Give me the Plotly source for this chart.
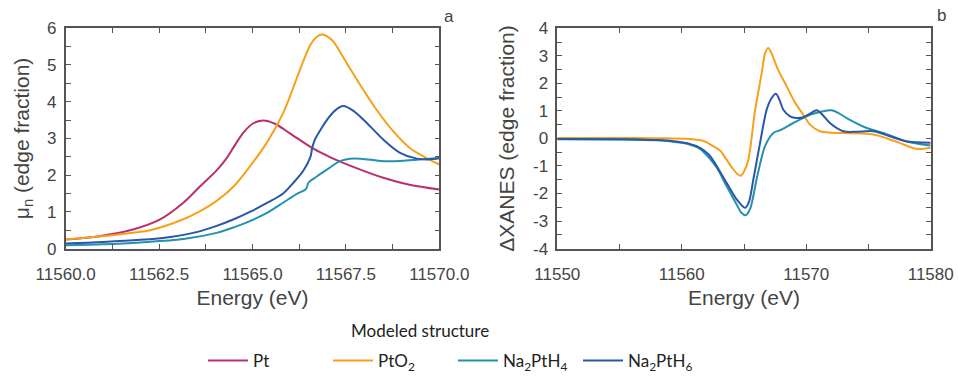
import plotly.graph_objects as go

# ---------------- data ----------------
series_names = ["Pt", "PtO<sub>2</sub>", "Na<sub>2</sub>PtH<sub>4</sub>", "Na<sub>2</sub>PtH<sub>6</sub>"]

# Panel a: normalized mu (edge fraction)
pt_e = [11560.0, 11560.9, 11561.8, 11562.5, 11563.15, 11563.6, 11564.04, 11564.3, 11564.5, 11564.75,
        11565.0, 11565.29, 11565.6, 11566.0, 11566.63, 11567.1, 11567.61, 11568.5, 11569.2, 11570.0]
pt_mu = [0.25, 0.34, 0.52, 0.78, 1.25, 1.70, 2.13, 2.45, 2.77, 3.15,
         3.40, 3.49, 3.40, 3.14, 2.72, 2.48, 2.26, 1.93, 1.74, 1.61]

pto2_e = [11560.0, 11560.9, 11561.8, 11562.26, 11563.15, 11563.6, 11564.04, 11564.5, 11564.93, 11565.38,
          11565.82, 11566.09, 11566.3, 11566.55, 11566.7, 11566.86, 11567.0, 11567.16, 11567.52, 11567.88,
          11568.32, 11568.77, 11569.21, 11569.6, 11570.0]
pto2_mu = [0.25, 0.33, 0.43, 0.50, 0.80, 1.02, 1.30, 1.70, 2.24, 2.88,
           3.69, 4.38, 4.95, 5.55, 5.75, 5.83, 5.78, 5.64, 5.05, 4.46,
           3.78, 3.19, 2.74, 2.50, 2.29]

h4_e = [11560.0, 11561.0, 11562.0, 11563.15, 11564.04, 11564.5, 11564.93, 11565.4, 11565.82, 11566.2,
        11566.43, 11566.5, 11566.7, 11566.99, 11567.34, 11567.61, 11567.9, 11568.5, 11569.0, 11569.4, 11570.0]
h4_mu = [0.09, 0.12, 0.17, 0.26, 0.43, 0.58, 0.75, 0.98, 1.25, 1.50,
         1.62, 1.80, 1.95, 2.15, 2.38, 2.45, 2.45, 2.38, 2.39, 2.42, 2.47]

h6_e = [11560.0, 11561.0, 11562.0, 11562.8, 11563.5, 11564.04, 11564.5, 11564.93, 11565.4, 11565.82,
        11566.1, 11566.36, 11566.55, 11566.6, 11566.67, 11566.8, 11566.99, 11567.2, 11567.43, 11567.7,
        11568.06, 11568.5, 11568.95, 11569.4, 11569.7, 11570.0]
h6_mu = [0.14, 0.18, 0.24, 0.32, 0.45, 0.62, 0.80, 1.00, 1.25, 1.50,
         1.80, 2.12, 2.50, 2.75, 2.97, 3.20, 3.50, 3.75, 3.88, 3.75,
         3.42, 2.97, 2.61, 2.45, 2.43, 2.46]

# Panel b: Delta XANES (edge fraction)
d_pto2_e = [11550, 11555, 11558, 11560.66, 11561.8, 11562.53, 11563.1, 11563.6, 11564.1, 11564.5,
            11564.76, 11565.0, 11565.35, 11565.88, 11566.42, 11566.7, 11566.95, 11567.2, 11567.73, 11568.43,
            11569.1, 11569.77, 11570.3, 11571.1, 11572.0, 11573.5, 11575.4, 11576.5, 11577.5, 11578.87, 11580]
d_pto2 = [0.02, 0.02, 0.01, -0.02, -0.10, -0.28, -0.45, -0.77, -1.10, -1.30,
          -1.35, -1.20, -0.77, 0.98, 2.37, 3.10, 3.28, 3.10, 2.50, 1.89,
          1.30, 0.86, 0.50, 0.26, 0.21, 0.19, 0.14, 0.00, -0.16, -0.38, -0.34]

d_h4_e = [11550, 11555, 11558, 11559.32, 11560.5, 11561.47, 11562.8, 11563.6, 11564.41, 11564.8,
          11565.14, 11565.5, 11566.05, 11566.69, 11567.36, 11567.9, 11568.96, 11570.3, 11571.2, 11572.05,
          11572.6, 11573.25, 11574.86, 11576.2, 11578.0, 11580]
d_h4 = [-0.03, -0.04, -0.07, -0.12, -0.20, -0.38, -1.05, -1.73, -2.40, -2.70,
        -2.79, -2.55, -1.40, -0.28, 0.20, 0.30, 0.56, 0.86, 0.97, 1.02,
        0.92, 0.74, 0.38, 0.20, -0.10, -0.26]

d_h6_e = [11550, 11555, 11556.6, 11558, 11559.32, 11560.5, 11561.47, 11562.2, 11562.8, 11563.6,
          11564.41, 11565.08, 11565.4, 11565.75, 11566.29, 11566.82, 11567.2, 11567.57, 11567.85, 11568.16,
          11568.7, 11569.23, 11569.77, 11570.3, 11570.84, 11571.3, 11571.9, 11572.98, 11574.0, 11575.4,
          11576.7, 11578.0, 11580]
d_h6 = [-0.02, -0.03, -0.04, -0.06, -0.10, -0.18, -0.34, -0.60, -1.00, -1.61,
        -2.21, -2.52, -2.30, -1.49, -0.16, 1.04, 1.45, 1.62, 1.40, 1.04,
        0.80, 0.74, 0.77, 0.90, 1.02, 0.86, 0.56, 0.26, 0.24, 0.26,
        0.08, -0.10, -0.16]

# tick positions / labels
xa_ticks = [11560, 11561.25, 11562.5, 11563.75, 11565, 11566.25, 11567.5, 11568.75, 11570]
xa_labels = ["11560.0", "", "11562.5", "", "11565.0", "", "11567.5", "", "11570.0"]
ya_ticks = [0, 0.5, 1, 1.5, 2, 2.5, 3, 3.5, 4, 4.5, 5, 5.5, 6]
ya_labels = ["0", "", "1", "", "2", "", "3", "", "4", "", "5", "", "6"]
xb_ticks = [11550, 11555, 11560, 11565, 11570, 11575, 11580]
xb_labels = ["11550", "", "11560", "", "11570", "", "11580"]
yb_ticks = [-4, -3.5, -3, -2.5, -2, -1.5, -1, -0.5, 0, 0.5, 1, 1.5, 2, 2.5, 3, 3.5, 4]
yb_labels = ["-4", "", "-3", "", "-2", "", "-1", "", "0", "", "1", "", "2", "", "3", "", "4"]

colors = ["#B8306E", "#F7A11A", "#2591AE", "#2A57A8"]

# ---------------- geometry ----------------
W, H = 958, 379


def px(x):
    return x / W


def py(y):
    return 1 - y / H


# ---------------- figure ----------------
fig = go.Figure()

left = [(pt_e, pt_mu), (pto2_e, pto2_mu), (h4_e, h4_mu), (h6_e, h6_mu)]
for i, (x, y) in enumerate(left):
    fig.add_trace(go.Scatter(x=x, y=y, mode="lines", name=series_names[i],
                             line=dict(color=colors[i], width=2, shape="spline", smoothing=0.9),
                             xaxis="x", yaxis="y"))

right = [(d_pto2_e, d_pto2, 1), (d_h4_e, d_h4, 2), (d_h6_e, d_h6, 3)]
for x, y, ci in right:
    fig.add_trace(go.Scatter(x=x, y=y, mode="lines", name=series_names[ci], showlegend=False,
                             line=dict(color=colors[ci], width=2, shape="spline", smoothing=0.8),
                             xaxis="x2", yaxis="y2"))

axis_col = "#555555"
tick_font = dict(family="'Liberation Sans', Arial, sans-serif", size=17, color="#444444")
title_font = dict(family="'Liberation Sans', Arial, sans-serif", size=21, color="#444444")
legend_font = dict(family="Lato, sans-serif", size=17, color="#222222")

common = dict(showline=True, linecolor=axis_col, linewidth=1.6, mirror="ticks", ticks="inside",
              ticklen=5, tickwidth=1.4, tickcolor=axis_col, showgrid=False, zeroline=False,
              tickfont=tick_font, automargin=False, tickmode="array")

ydom = [py(249.3), py(28.3)]

fig.update_layout(
    width=W, height=H,
    margin=dict(l=0, r=0, t=0, b=0),
    paper_bgcolor="white", plot_bgcolor="white",
    xaxis=dict(domain=[px(65.7), px(439.3)], range=[11560, 11570], tickvals=xa_ticks, ticktext=xa_labels,
               ticklabelstandoff=9,
               title=dict(text="Energy (eV)", font=title_font, standoff=7), anchor="y", **common),
    yaxis=dict(domain=ydom, range=[0, 6], tickvals=ya_ticks, ticktext=ya_labels, ticklabelstandoff=4,
               title=dict(text="μ<sub>n</sub> (edge fraction)", font=title_font, standoff=12), anchor="x", **common),
    xaxis2=dict(domain=[px(557.3), px(930.7)], range=[11550, 11580], tickvals=xb_ticks, ticktext=xb_labels,
                ticklabelstandoff=9,
                title=dict(text="Energy (eV)", font=title_font, standoff=7), anchor="y2", **common),
    yaxis2=dict(domain=ydom, range=[-4, 4], tickvals=yb_ticks, ticktext=yb_labels, ticklabelstandoff=4,
                title=dict(text="ΔXANES (edge fraction)", font=title_font, standoff=13), anchor="x2", **common),
    showlegend=True,
    legend=dict(orientation="h", x=px(203), xanchor="left", y=py(362), yanchor="middle",
                font=legend_font, entrywidth=70, itemwidth=40,
                bgcolor="rgba(0,0,0,0)", traceorder="normal"),
    annotations=[
        dict(text="Modeled structure", x=px(420), y=py(331), xref="paper", yref="paper",
             showarrow=False, xanchor="center", yanchor="middle", font=legend_font),
        dict(text="a", x=px(449), y=py(17), xref="paper", yref="paper", showarrow=False,
             xanchor="center", yanchor="middle", font=dict(family="'Liberation Sans', Arial", size=17, color="#444444")),
        dict(text="b", x=px(941), y=py(16), xref="paper", yref="paper", showarrow=False,
             xanchor="center", yanchor="middle", font=dict(family="'Liberation Sans', Arial", size=17, color="#444444")),
    ],
)

# remove the browser's default 8px page margin so the 958x379 figure fills the window exactly
fig.write_html(
    "out.html",
    config={"displayModeBar": False},
    post_script="document.body.style.margin='0';document.body.style.overflow='hidden';"
                "document.documentElement.style.overflow='hidden';",
)
